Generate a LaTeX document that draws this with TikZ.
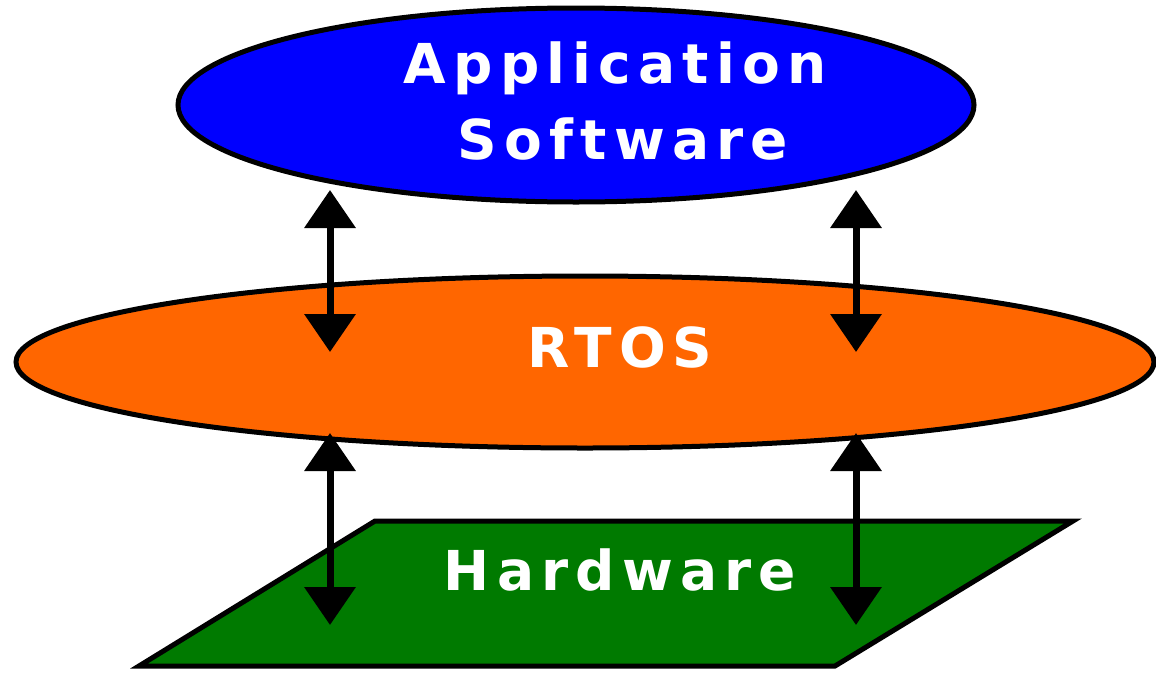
\documentclass[tikz,border=0pt]{standalone}
\usepackage{fontspec}
\setmainfont{DejaVu Sans}
\newfontfamily\lblfont[LetterSpace=13]{DejaVu Sans Bold}
\usetikzlibrary{shapes.geometric,arrows.meta}
\definecolor{appblue}{HTML}{0000FF}
\definecolor{rtosorange}{HTML}{FF6600}
\definecolor{hwgreen}{HTML}{007A00}
\tikzset{
  layer/.style={ellipse, draw=black, line width=5pt, inner sep=0pt},
  lbl/.style={text=white, font=\lblfont\fontsize{55}{60}\selectfont, inner sep=0pt, anchor=base},
  link/.style={line width=7pt, {Triangle[width=50pt,length=38pt]}-{Triangle[width=50pt,length=38pt]}}
}
\begin{document}
\begin{tikzpicture}[x=1pt,y=-1pt]
\useasboundingbox (0,0) rectangle (1156,675);
% layers
\node[layer, fill=appblue, minimum width=796pt, minimum height=194pt] (app) at (576,105) {};
\node[layer, fill=rtosorange, minimum width=1138pt, minimum height=172pt] (rtos) at (585,362) {};
\coordinate (hwA) at (375,521);
\coordinate (hwB) at (1073,521);
\coordinate (hwC) at (835,666);
\coordinate (hwD) at (139,666);
\draw[fill=hwgreen, line width=5pt, line join=miter] (hwA) -- (hwB) -- (hwC) -- (hwD) -- cycle;
% labels
\node[lbl] (tapp) at (615,83) {Application};
\node[lbl] (tsoft) at (623,159) {Software};
\node[lbl] (trtos) at (620,367) {RTOS};
\node[lbl] (thw) at (620,590) {Hardware};
% arrow ends
\coordinate (a1t) at (330,190);
\coordinate (a1b) at (330,352);
\coordinate (a2t) at (856,190);
\coordinate (a2b) at (856,352);
\coordinate (b1t) at (330,433);
\coordinate (b1b) at (330,625);
\coordinate (b2t) at (856,433);
\coordinate (b2b) at (856,625);
\draw[link] (a1t) -- (a1b);
\draw[link] (a2t) -- (a2b);
\draw[link] (b1t) -- (b1b);
\draw[link] (b2t) -- (b2b);
\end{tikzpicture}
\end{document}
